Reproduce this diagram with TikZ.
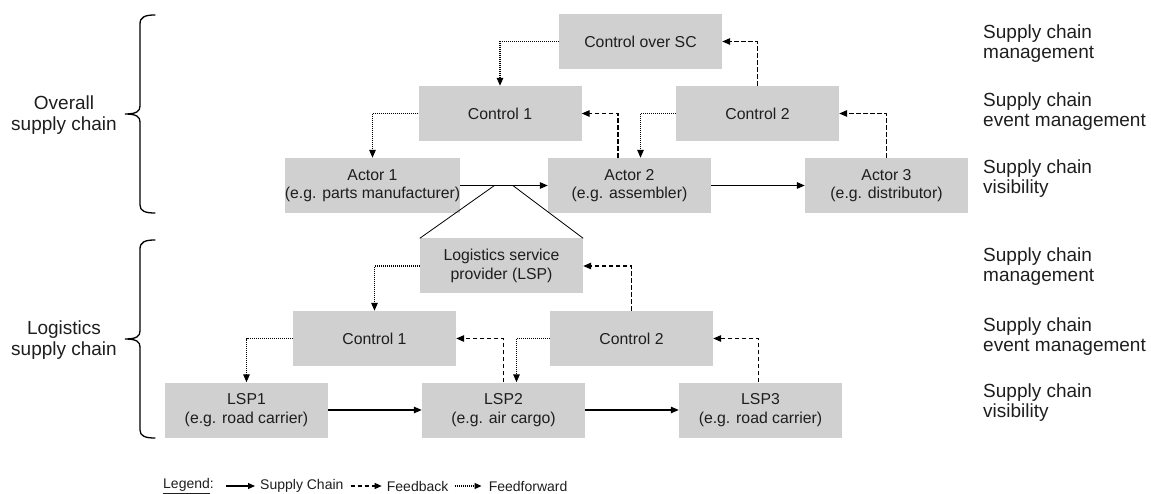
\documentclass[tikz,border=0pt]{standalone}
\usepackage{fontspec}
\setmainfont{Liberation Sans}
\usetikzlibrary{arrows.meta,calc}
\definecolor{boxgray}{HTML}{D0D0D0}
\definecolor{ink}{HTML}{1E1E1E}
\tikzset{
  block/.style={fill=boxgray, minimum width=163pt, minimum height=55pt,
    inner sep=0pt, align=center, text=ink,
    font=\fontsize{15.8}{18.5}\selectfont},
  sidelabel/.style={anchor=west, align=left, inner sep=0pt, text=ink,
    font=\fontsize{19}{20}\selectfont},
  grouplabel/.style={align=center, inner sep=0pt, text=ink,
    font=\fontsize{19}{21.5}\selectfont},
  legtxt/.style={anchor=west, inner sep=0pt, text=ink,
    font=\fontsize{14}{16}\selectfont},
  tip/.style={-{Triangle[length=8pt,width=6.5pt]}},
  supply/.style={tip, line width=1.3pt},
  feedback/.style={tip, line width=1.2pt, dash pattern=on 4.5pt off 2.5pt},
  feedfwd/.style={tip, line width=1.2pt, dash pattern=on 1pt off 1pt},
  legtip/.style={line width=1.1pt, -{Triangle[length=7pt,width=6pt]}},
  fan/.style={line width=0.8pt},
  brace/.style={line width=1.3pt, line cap=round},
}
\begin{document}
\begin{tikzpicture}[x=1pt, y=-1pt]
\useasboundingbox (0,0) rectangle (1151,494);

% ---------- overall supply chain ----------
\node[block] (csc) at (640.5,41.5)  {Control over SC};
\node[block] (c1)  at (500,113.5)   {Control 1};
\node[block] (c2)  at (757.5,113.5) {Control 2};
\node[block] (a1)  at (372.5,185.5) {Actor 1\\(e.g. parts manufacturer)};
\node[block] (a2)  at (629.5,185.5) {Actor 2\\(e.g. assembler)};
\node[block] (a3)  at (886.5,185.5) {Actor 3\\(e.g. distributor)};

\draw[feedfwd]  (csc.west) -| (c1.north);
\draw[feedback] (c2.north) |- (csc.east);
\draw[feedfwd]  (c1.west) -| (a1.north);
\draw[feedback] ([xshift=-11.5pt]a2.north) |- (c1.east);
\draw[feedfwd]  (c2.west) -| ([xshift=11pt]a2.north);
\draw[feedback] (a3.north) |- (c2.east);
\draw[supply] (a1) -- (a2);
\draw[supply] (a2) -- (a3);

% ---------- logistics supply chain ----------
\node[block] (lsp) at (501.5,266)   {Logistics service\\provider (LSP)};
\node[block] (lc1) at (374.5,338.5) {Control 1};
\node[block] (lc2) at (631.5,338.5) {Control 2};
\node[block] (l1)  at (246.5,410)   {LSP1\\(e.g. road carrier)};
\node[block] (l2)  at (503.5,410)   {LSP2\\(e.g. air cargo)};
\node[block] (l3)  at (760.5,410)   {LSP3\\(e.g. road carrier)};

\draw[feedfwd]  (lsp.west) -| (lc1.north);
\draw[feedback] (lc2.north) |- (lsp.east);
\draw[feedfwd]  (lc1.west) -| (l1.north);
\draw[feedback] (l2.north) |- (lc1.east);
\draw[feedfwd]  (lc2.west) -| ([xshift=13pt]l2.north);
\draw[feedback] ([xshift=-2pt]l3.north) |- (lc2.east);
\draw[supply] (l1) -- (l2);
\draw[supply] (l2) -- (l3);

% fan linking the actor flow to the LSP
\coordinate (fanL) at ($(a1.east)!0.39!(a2.west)$);
\coordinate (fanR) at ($(a1.east)!0.60!(a2.west)$);
\draw[fan] (fanL) -- (lsp.north west);
\draw[fan] (fanR) -- (lsp.north east);

% ---------- braces and group labels ----------
\draw[brace] (155,15) .. controls (145,15) and (140,17) .. (140,24)
  -- (140,106) .. controls (140,111) and (137,114) .. (125,114)
  .. controls (137,114) and (140,117) .. (140,122)
  -- (140,205) .. controls (140,211) and (145,213) .. (155,213);
\draw[brace] (155,240) .. controls (145,240) and (140,242) .. (140,249)
  -- (140,331) .. controls (140,336) and (137,339) .. (125,339)
  .. controls (137,339) and (140,342) .. (140,347)
  -- (140,430) .. controls (140,436) and (145,438) .. (155,438);
\node[grouplabel] (gov) at (64,115) {Overall\\supply chain};
\node[grouplabel] (glo) at (64,340) {Logistics\\supply chain};

% ---------- level labels ----------
\node[sidelabel] (m1) at (983,44)  {Supply chain\\management};
\node[sidelabel] (e1) at (983,112) {Supply chain\\event management};
\node[sidelabel] (v1) at (983,179) {Supply chain\\visibility};
\node[sidelabel] (m2) at (983,267) {Supply chain\\management};
\node[sidelabel] (e2) at (983,337) {Supply chain\\event management};
\node[sidelabel] (v2) at (983,403) {Supply chain\\visibility};

% ---------- legend ----------
\node[legtxt] (lg) at (163,486) {\underline{Legend}:};
\coordinate (k1a) at ([xshift=12pt]lg.east);
\coordinate (k1b) at ([xshift=41pt]lg.east);
\node[legtxt] (ksc) at ([xshift=5pt]k1b) {Supply Chain};
\coordinate (k2a) at ([xshift=7pt]ksc.east);
\coordinate (k2b) at ([xshift=38pt]ksc.east);
\node[legtxt] (kfb) at ([xshift=5pt]k2b) {Feedback};
\coordinate (k3a) at ([xshift=6pt]kfb.east);
\coordinate (k3b) at ([xshift=33pt]kfb.east);
\node[legtxt] (kff) at ([xshift=7pt]k3b) {Feedforward};
\draw[legtip] (k1a) -- (k1b);
\draw[legtip, dash pattern=on 4.5pt off 2.5pt] (k2a) -- (k2b);
\draw[legtip, dash pattern=on 1pt off 1pt] (k3a) -- (k3b);
\end{tikzpicture}
\end{document}
